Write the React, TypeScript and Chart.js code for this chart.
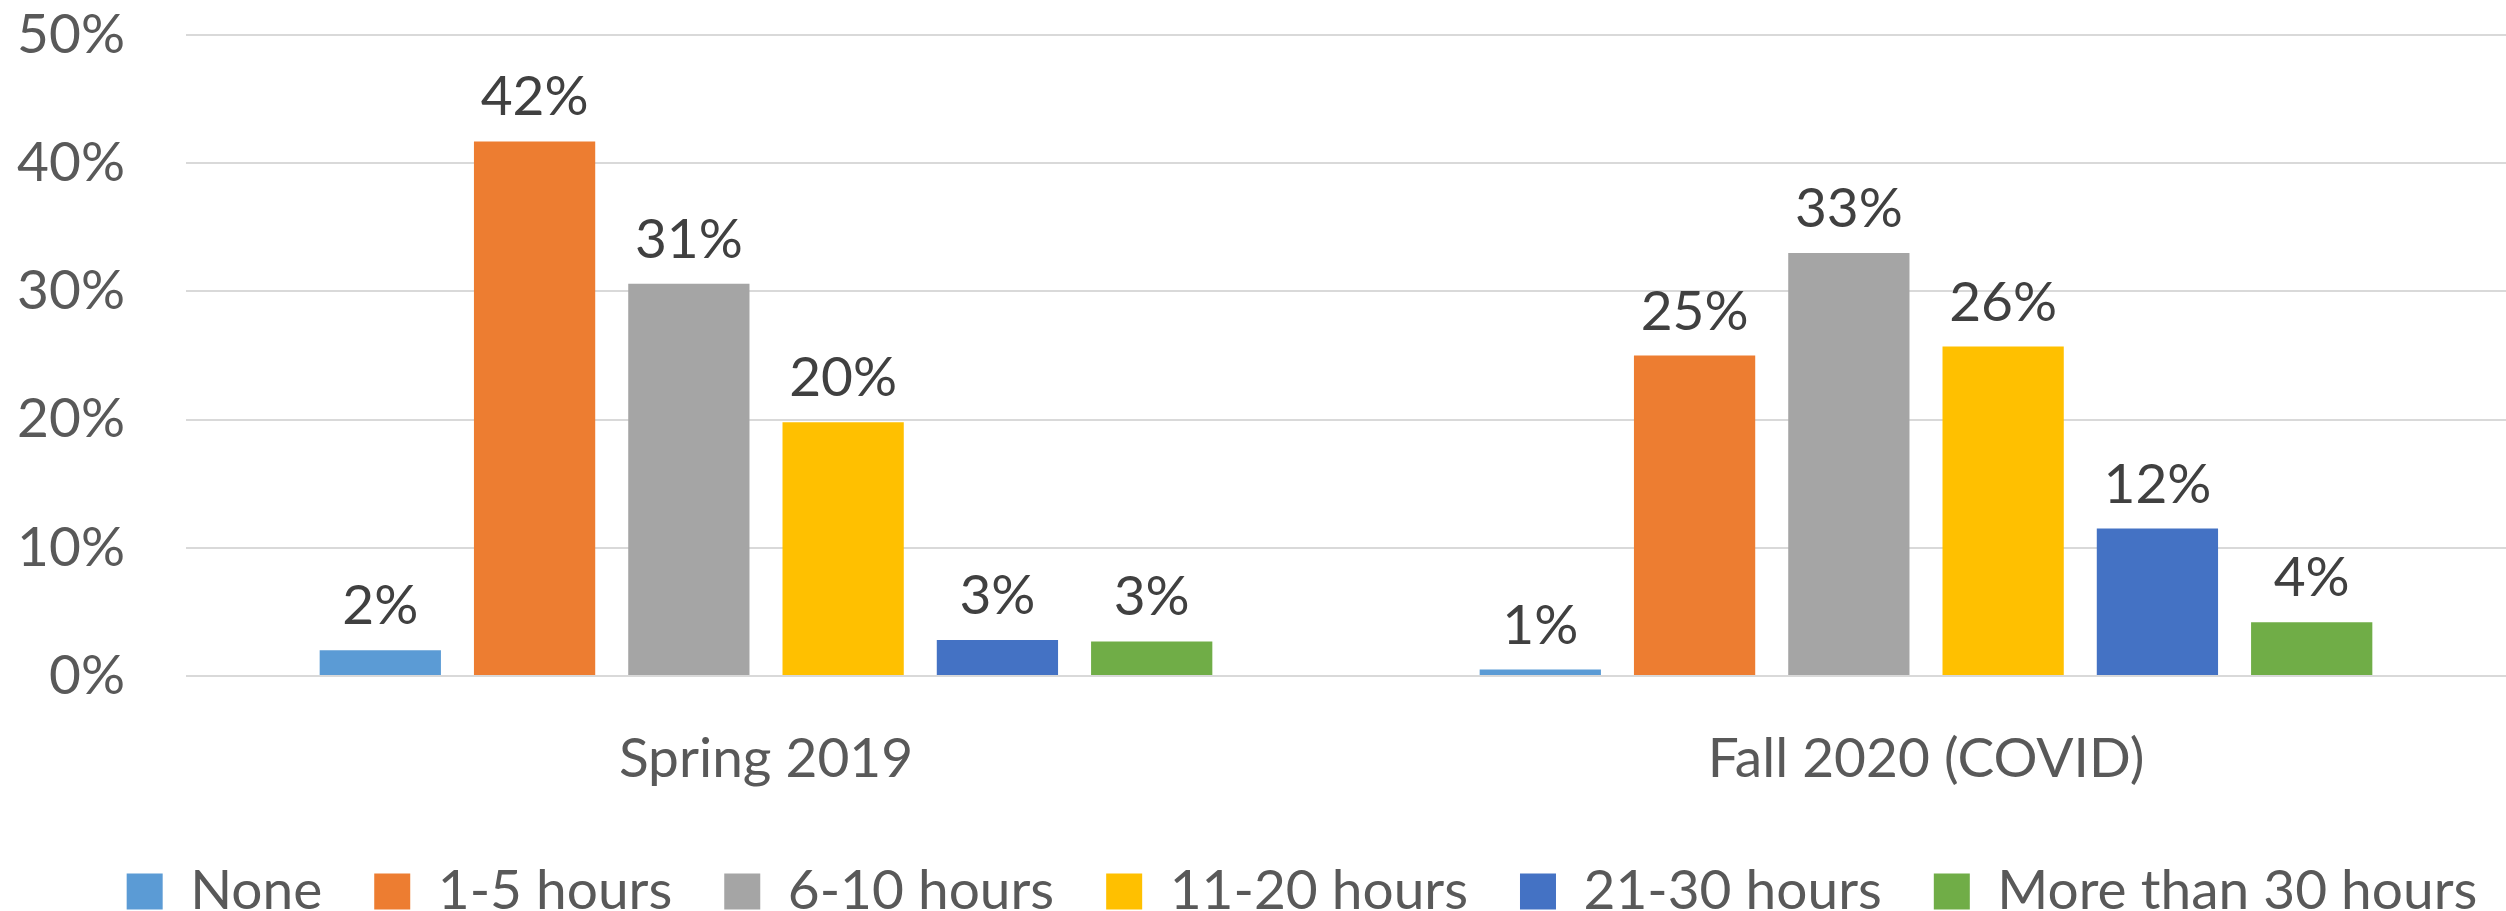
import React, { useEffect, useRef } from "react";
import { Chart, registerables } from "chart.js";

Chart.register(...registerables);

const categories = ["Spring 2019", "Fall 2020 (COVID)"];
const seriesNames = ["None", "1-5 hours", "6-10 hours", "11-20 hours", "21-30 hours", "More than 30 hours"];
const seriesColors = ["#5B9BD5", "#ED7D31", "#A5A5A5", "#FFC000", "#4472C4", "#70AD47"];
const noneValues = [2.0, 0.5];
const h1to5Values = [41.7, 25.0];
const h6to10Values = [30.6, 33.0];
const h11to20Values = [19.8, 25.7];
const h21to30Values = [2.8, 11.5];
const moreThan30Values = [2.7, 4.2];
const yTicks = [0, 10, 20, 30, 40, 50];

const FONT = "Lato, 'Open Sans', sans-serif";

const dataLabelPlugin = {
  id: "dataLabels",
  afterLayout(chart: any) {
    // the legend in the original is centred a little right of the canvas centre
    if (chart.legend) {
      chart.legend.left = 0;
      chart.legend.right = 2604;
    }
  },
  afterDatasetsDraw(chart: any) {
    const ctx = chart.ctx;
    ctx.save();
    ctx.font = `55px ${FONT}`;
    ctx.fillStyle = "#404040";
    ctx.textAlign = "center";
    ctx.textBaseline = "alphabetic";
    chart.data.datasets.forEach((ds: any, di: number) => {
      const meta = chart.getDatasetMeta(di);
      meta.data.forEach((bar: any, i: number) => {
        const v = ds.data[i];
        ctx.fillText(Math.round(v) + "%", bar.x, bar.y - 26);
      });
    });
    ctx.restore();
  },
};

export default function App() {
  const ref = useRef<HTMLCanvasElement | null>(null);
  useEffect(() => {
    if (!ref.current) return;
    const allValues = [noneValues, h1to5Values, h6to10Values, h11to20Values, h21to30Values, moreThan30Values];
    const chart = new Chart(ref.current, {
      type: "bar",
      data: {
        labels: categories,
        datasets: seriesNames.map((name, i) => ({
          label: name,
          data: allValues[i],
          backgroundColor: seriesColors[i],
          borderWidth: 0,
          categoryPercentage: 0.798,
          barPercentage: 0.786,
        })),
      },
      options: {
        responsive: false,
        animation: false,
        layout: { padding: { left: 0, top: 35, right: 0, bottom: -18 } },
        plugins: {
          tooltip: { enabled: false },
          title: { display: false },
          legend: {
            position: "bottom",
            align: "center",
            labels: {
              boxWidth: 36,
              boxHeight: 36,
              padding: 52,
              color: "#595959",
              font: { family: FONT, size: 55 },
            },
          },
        },
        scales: {
          x: {
            grid: { display: false, drawTicks: false },
            border: { display: false },
            ticks: {
              color: "#595959",
              font: { family: FONT, size: 55 },
              padding: 50,
            },
            afterFit(scale: any) {
              scale.height = 136;
            },
          },
          y: {
            min: 0,
            max: 50,
            afterBuildTicks(scale: any) {
              scale.ticks = yTicks.map((v) => ({ value: v }));
            },
            grid: { color: "#D9D9D9", lineWidth: 2, drawTicks: false },
            border: { display: false },
            ticks: {
              color: "#595959",
              font: { family: FONT, size: 55 },
              padding: 61,
              callback: (v: any) => v + "%",
            },
            afterFit(scale: any) {
              scale.width = 186;
              scale.paddingTop = 0;
              scale.paddingBottom = 0;
            },
          },
        },
      },
      plugins: [dataLabelPlugin],
    });
    return () => chart.destroy();
  }, []);
  return (
    <div style={{ position: "fixed", left: 0, top: 0, width: 2506, height: 911, background: "#fff" }}>
      <canvas ref={ref} width={2506} height={911} style={{ display: "block" }} />
    </div>
  );
}
